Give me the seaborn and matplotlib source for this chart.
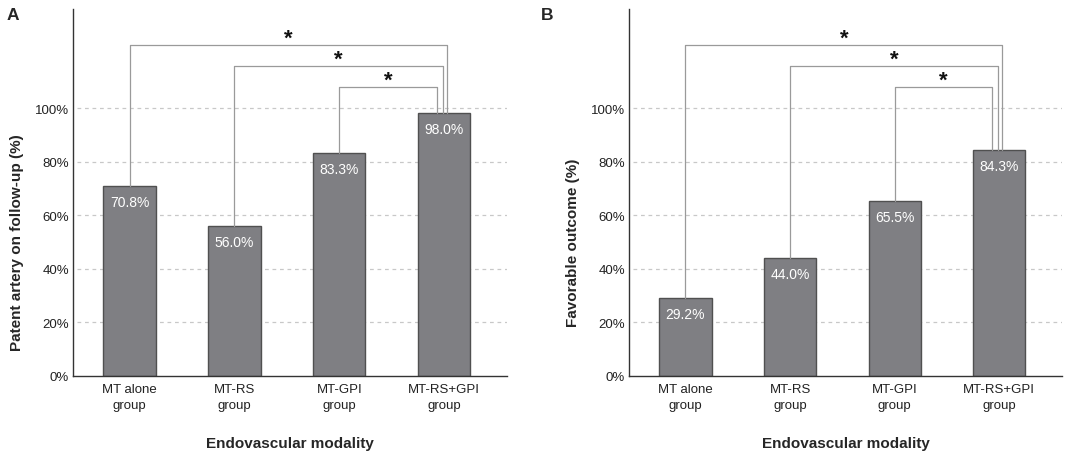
import matplotlib
matplotlib.use("Agg")
import matplotlib.pyplot as plt
import seaborn as sns
import pandas as pd

categories = ["MT alone\ngroup", "MT-RS\ngroup", "MT-GPI\ngroup", "MT-RS+GPI\ngroup"]
patent_values = [70.8, 56.0, 83.3, 98.0]
favorable_values = [29.2, 44.0, 65.5, 84.3]
ytick_values = [0, 20, 40, 60, 80, 100]
ytick_labels = ["0%", "20%", "40%", "60%", "80%", "100%"]
# significance brackets: (left group index, right group index, bracket height %)
brackets = [(0, 3, 123.4), (1, 3, 115.6), (2, 3, 107.8)]
right_offsets = [0.03, -0.015, -0.065]

sns.set_theme(style="white")
plt.rcParams['font.family'] = ['Liberation Sans', 'DejaVu Sans']

fig = plt.figure(figsize=(10.84, 4.52), dpi=100)
axA = fig.add_axes([73/1084, 1-377/452, 434/1084, 367/452])
axB = fig.add_axes([629/1084, 1-377/452, 433/1084, 367/452])

bar_color = "#7f7f83"
edge_color = "#505050"
line_color = "#9a9a9a"

def draw(ax, values, ylabel, letter, letter_x):
    df = pd.DataFrame({"group": categories, "value": values})
    sns.barplot(data=df, x="group", y="value", ax=ax, color=bar_color,
                width=0.5, edgecolor=edge_color, linewidth=1.0, saturation=1)
    for p in ax.patches:
        p.set_facecolor(bar_color)
    ax.set_ylim(0, 137)
    ax.set_xlim(-0.54, 3.6)
    ax.set_yticks(ytick_values)
    ax.set_yticklabels(ytick_labels, fontsize=9.5, color="#222222")
    ax.tick_params(axis="x", labelsize=9.5, colors="#222222", length=0, pad=5)
    ax.tick_params(axis="y", length=0, pad=3)
    for t in ax.get_xticklabels():
        t.set_linespacing(1.45)
    for y in ytick_values[1:]:
        ax.plot([-0.5, 3.6], [y, y], ls=(0, (3, 3)), color="#c8c8c8", lw=0.9, zorder=0)
    for s in ["top", "right"]:
        ax.spines[s].set_visible(False)
    ax.spines["left"].set_color("#333333")
    ax.spines["bottom"].set_color("#333333")
    ax.spines["left"].set_linewidth(1.0)
    ax.spines["bottom"].set_linewidth(1.0)
    ax.set_xlabel("Endovascular modality", fontsize=11, fontweight="bold", labelpad=18)
    ax.set_ylabel(ylabel, fontsize=11, fontweight="bold")
    for i, v in enumerate(values):
        ax.annotate(f"{v:.1f}%", (i, v), xytext=(0, -11.5), textcoords="offset points",
                    ha="center", va="center", color="white", fontsize=10)
    for (l, r, h), off in zip(brackets, right_offsets):
        rx = r + off
        ax.plot([l, l, rx, rx], [values[l], h, h, values[r]], color=line_color, lw=0.9,
                zorder=1, clip_on=False)
        ax.text((l + rx) / 2, h + 2.6, "*", ha="center", va="center", fontsize=16,
                fontweight="bold", color="#111111")
    fig.text(letter_x, 1 - 15/452, letter, fontsize=12.5, fontweight="bold", va="center", ha="left")

draw(axA, patent_values, "Patent artery on follow-up (%)", "A", 7/1084)
draw(axB, favorable_values, "Favorable outcome (%)", "B", 541/1084)

axA.yaxis.set_label_coords(-49/434, 50 / 137)
axB.yaxis.set_label_coords(-49/433, 50 / 137)

fig.savefig("out.png", dpi=100)
